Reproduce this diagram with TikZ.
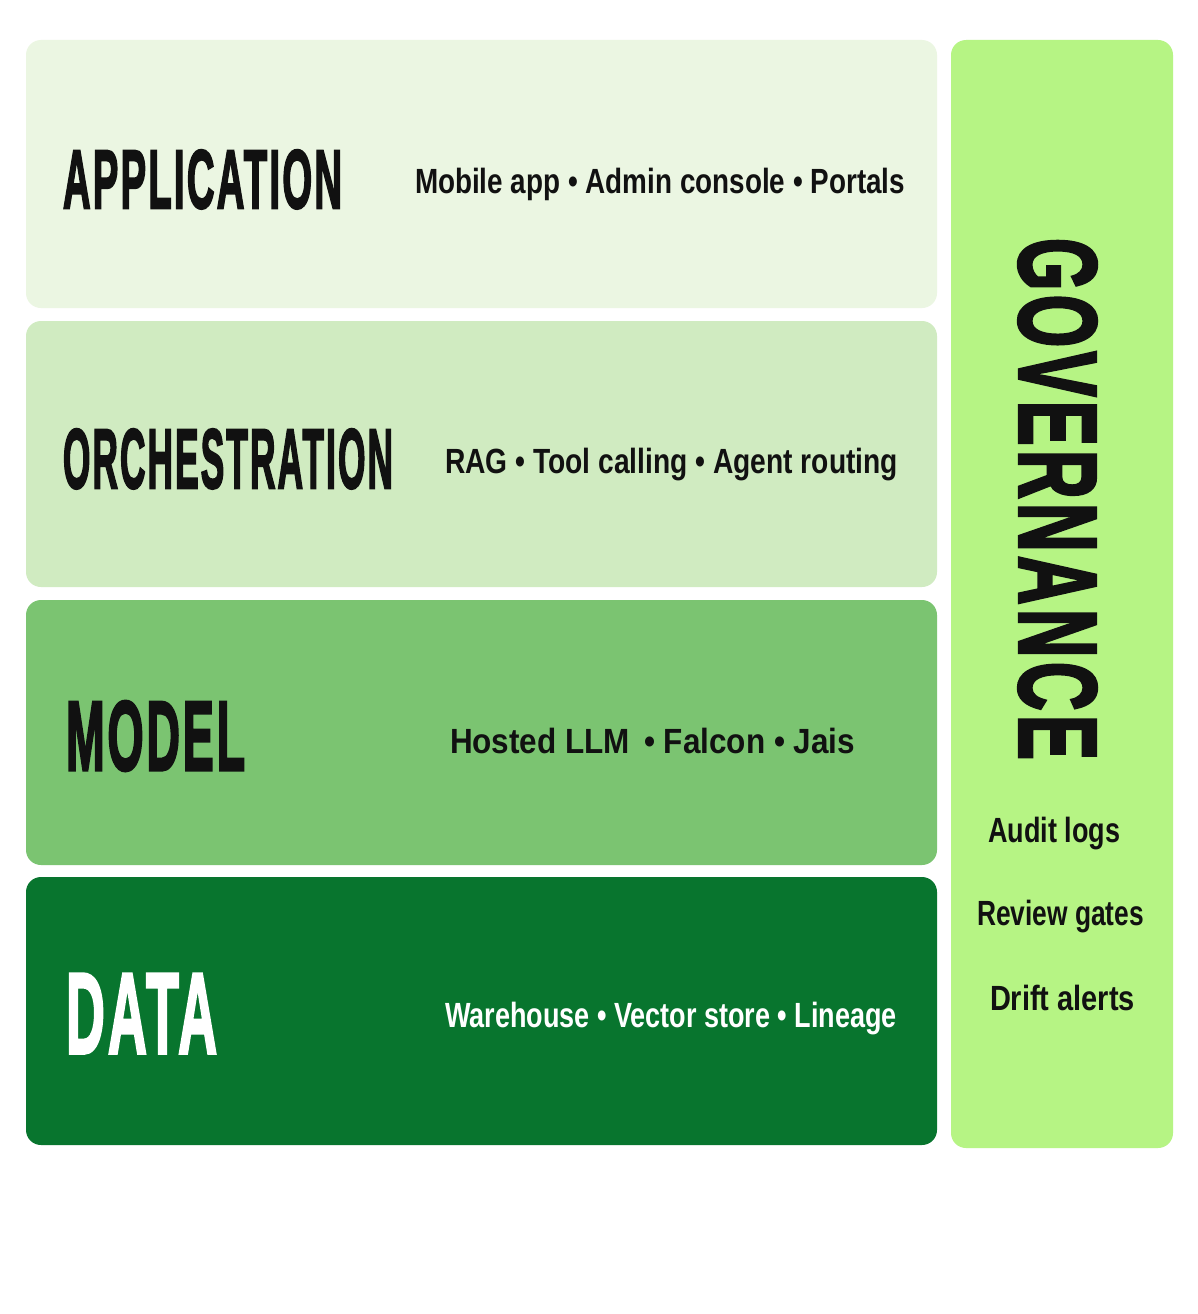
\documentclass[tikz,border=0pt]{standalone}
\usepackage{fontspec}
\usepackage{graphicx}
\setmainfont{Liberation Sans}
\newfontfamily\titlefont[FakeBold=3,LetterSpace=6]{Liberation Sans Bold}
\newfontfamily\subfont{Liberation Sans Bold}
\newcommand{\ttl}[3]{\resizebox{#1pt}{#2pt}{\titlefont #3}}
\newcommand{\sbt}[2]{\resizebox{#1pt}{\height}{\subfont\fontsize{35}{40}\selectfont #2}}
\definecolor{appcol}{HTML}{EBF6E2}
\definecolor{orchcol}{HTML}{D0EBC1}
\definecolor{modcol}{HTML}{7BC471}
\definecolor{datacol}{HTML}{08752E}
\definecolor{govcol}{HTML}{B6F484}
\definecolor{txtcol}{HTML}{111111}
\begin{document}
\begin{tikzpicture}[x=1pt,y=-1pt,
  layer/.style={rounded corners=15pt},
  lbl/.style={inner sep=0pt, outer sep=0pt, text=txtcol}]
\useasboundingbox (0,0) rectangle (1197,1314);
\fill[white] (0,0) rectangle (1197,1314);
% layers
\fill[layer, appcol] (26,40) rectangle (937,308);
\fill[layer, orchcol] (26,321) rectangle (937,587);
\fill[layer, modcol] (26,600) rectangle (937,865);
\fill[layer, datacol] (26,877) rectangle (937,1145);
\fill[layer, govcol] (951,40) rectangle (1173,1148);
% titles
\node[lbl, anchor=north west] (tapp) at (63,150) {\ttl{279}{58}{APPLICATION}};
\node[lbl, anchor=north west] (torch) at (63,429) {\ttl{330}{59}{ORCHESTRATION}};
\node[lbl, anchor=north west] (tmod) at (66,701) {\ttl{179}{69}{MODEL}};
\node[lbl, anchor=north west, text=white] (tdata) at (66,974) {\ttl{151}{79}{DATA}};
\node[lbl, rotate=-90] (tgov) at (1057.5,499) {\ttl{522}{77}{GOVERNANCE}};
% subtitles
\node[lbl, anchor=base west] (sapp) at (415,193) {\sbt{490}{Mobile app • Admin console • Portals}};
\node[lbl, anchor=base west] (sorch) at (445,473) {\sbt{453}{RAG • Tool calling • Agent routing}};
\node[lbl, anchor=base west] (smod) at (450,753) {\sbt{405}{Hosted LLM \,• Falcon • Jais}};
\node[lbl, anchor=base west, text=white] (sdata) at (445,1027) {\sbt{452}{Warehouse • Vector store • Lineage}};
% governance items
\node[lbl, anchor=base west] (g1) at (988,842) {\sbt{132}{Audit logs}};
\node[lbl, anchor=base west] (g2) at (977,925) {\sbt{167}{Review gates}};
\node[lbl, anchor=base west] (g3) at (990,1010) {\sbt{145}{Drift alerts}};
\end{tikzpicture}
\end{document}
